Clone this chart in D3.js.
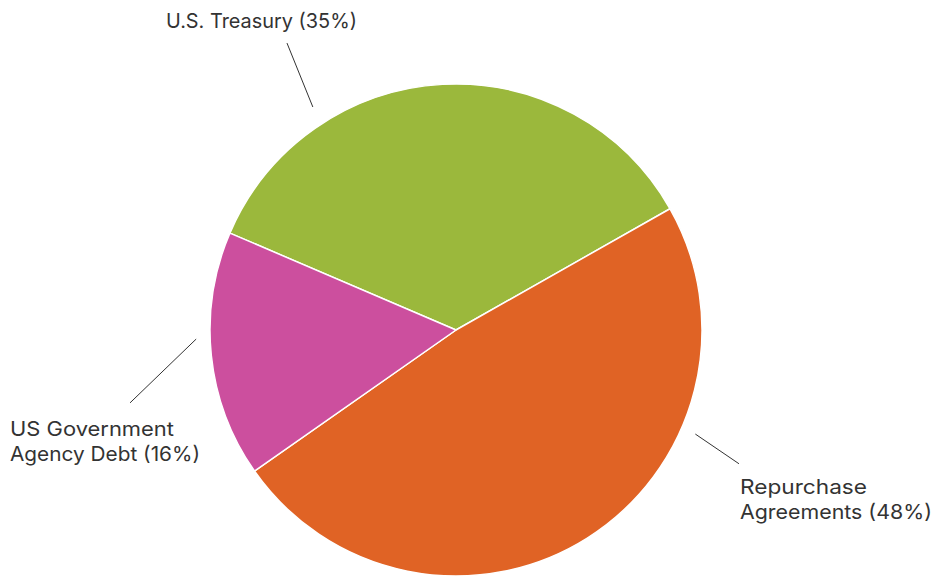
<!DOCTYPE html>
<html><head><meta charset="utf-8">
<script src="https://cdn.jsdelivr.net/npm/d3@7"></script>
<style>html,body{margin:0;padding:0;background:#fff;}svg{display:block;}</style>
</head><body>
<svg id="chart" width="935" height="577"></svg>
<script>
// Data
const categories = ["U.S. Treasury", "Repurchase Agreements", "US Government Agency Debt"];
const values = [35, 48, 16];
const colors = ["#9BB83C", "#E06325", "#CC4F9E"];
// label line breaks
const labelLines = [["U.S. Treasury (35%)"], ["Repurchase", "Agreements (48%)"], ["US Government", "Agency Debt (16%)"]];

// Layout
const W = 935, H = 577, cx = 456, cy = 330, R = 246;
const startDeg = -66.8;
// connector polar coords [angleStart, rStart, angleEnd, rEnd] in degrees
const connectors = [[-32.7, 265, -30.5, 333], [113.5, 261, 115.3, 313], [-92, 260, -102.6, 334]];
const labelPos = [{x:166, y:28, anchor:"start"}, {x:740, y:494, anchor:"start"}, {x:10, y:436, anchor:"start"}];
const labelWidths = [[191], [127, 192], [164, 190]];

const svg = d3.select("#chart");
const g = svg.append("g").attr("transform", `translate(${cx},${cy})`);
const rad = d => d * Math.PI / 180;
const pie = d3.pie().sort(null).startAngle(rad(startDeg)).endAngle(rad(startDeg) + 2*Math.PI);
const arc = d3.arc().innerRadius(0).outerRadius(R);
const arcs = pie(values);

g.selectAll("path.slice").data(arcs).join("path")
  .attr("class","slice")
  .attr("d", arc)
  .attr("fill", (d,i) => colors[i])
  .attr("stroke", "#fff").attr("stroke-width", 1.5).attr("stroke-linejoin","round");

const pt = (a, r) => [Math.sin(rad(a)) * r, -Math.cos(rad(a)) * r];
g.selectAll("line.conn").data(connectors).join("line")
  .attr("class","conn")
  .attr("x1", d => pt(d[0], d[1])[0]).attr("y1", d => pt(d[0], d[1])[1])
  .attr("x2", d => pt(d[2], d[3])[0]).attr("y2", d => pt(d[2], d[3])[1])
  .attr("stroke", "#333").attr("stroke-width", 1);

categories.forEach((c, i) => {
  const t = svg.append("text")
    .attr("x", labelPos[i].x).attr("y", labelPos[i].y)
    .attr("font-family", "Inter, 'Noto Sans', sans-serif")
    .attr("font-size", 20).attr("fill", "#333")
    .attr("text-anchor", labelPos[i].anchor);
  labelLines[i].forEach((ln, j) => {
    t.append("tspan").attr("x", labelPos[i].x).attr("dy", j === 0 ? 0 : 25)
      .attr("textLength", labelWidths[i][j]).attr("lengthAdjust", "spacingAndGlyphs")
      .text(ln);
  });
});
</script>
</body></html>
